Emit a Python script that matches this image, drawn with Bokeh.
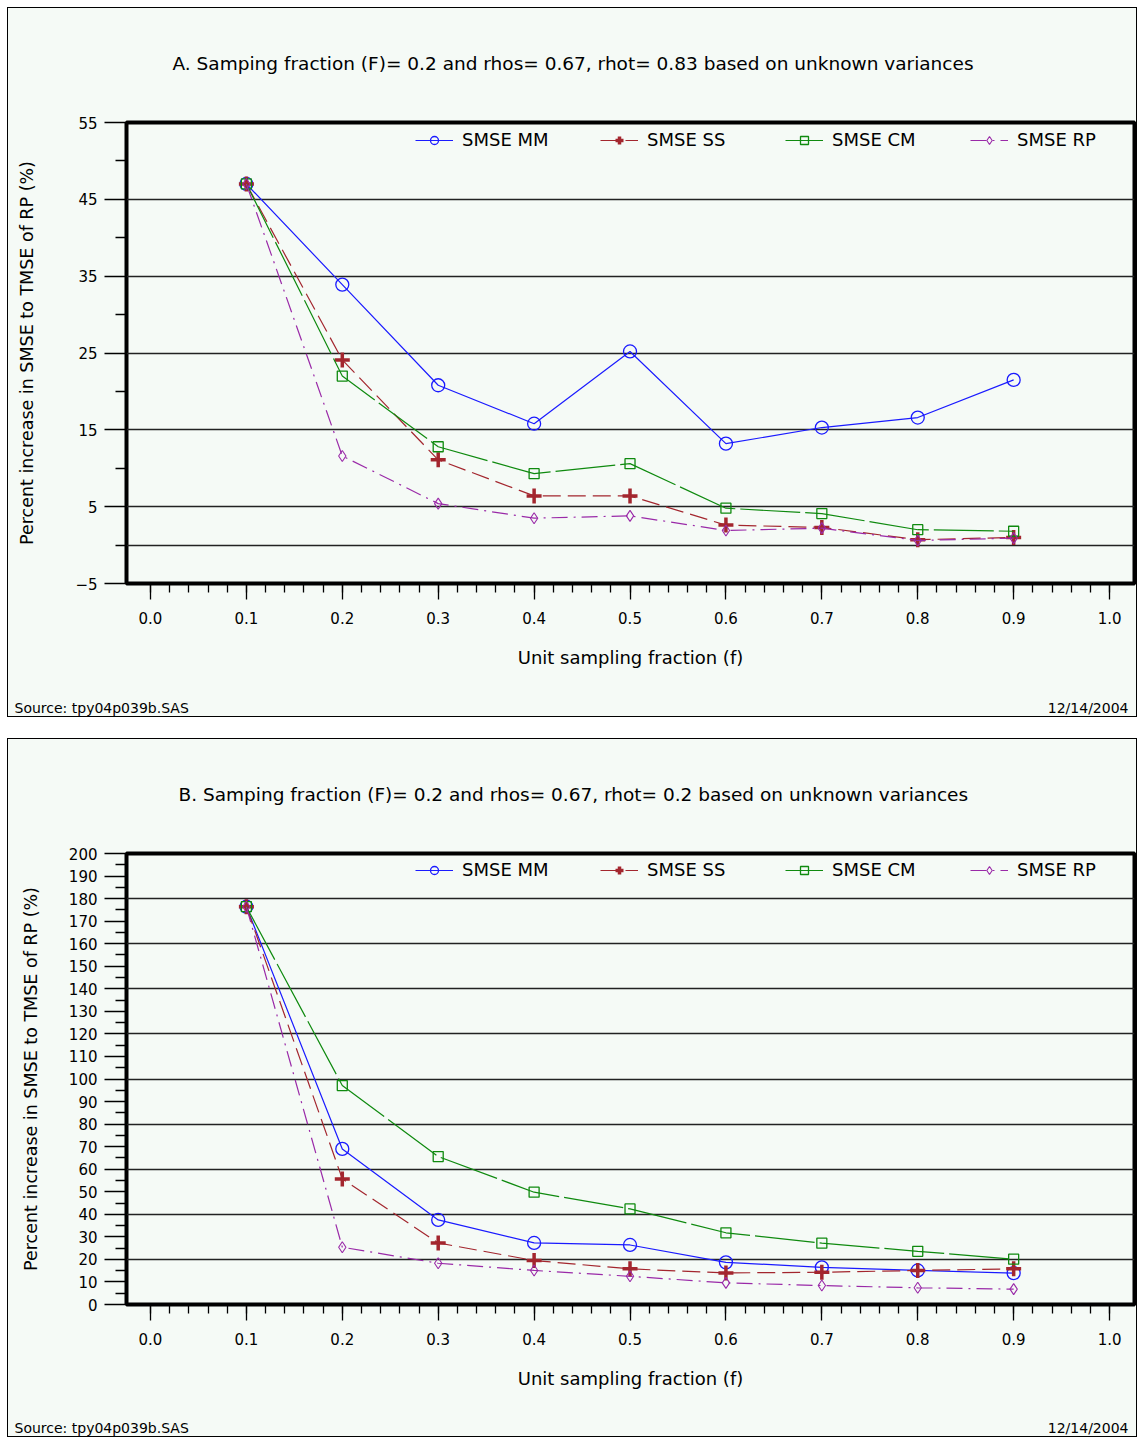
from bokeh.plotting import figure
from bokeh.models import (FixedTicker, PrintfTickFormatter, Legend, LegendItem,
                          Label, Range1d)
from bokeh.layouts import column, row
from bokeh.embed import file_html
from bokeh.resources import INLINE

# ---------------- data ----------------
f_values = [0.1, 0.2, 0.3, 0.4, 0.5, 0.6, 0.7, 0.8, 0.9]

a_mm = [47.0, 33.9, 20.8, 15.8, 25.2, 13.2, 15.3, 16.6, 21.5]
a_ss = [47.0, 24.1, 11.1, 6.4, 6.4, 2.6, 2.3, 0.7, 1.0]
a_cm = [47.0, 22.0, 12.8, 9.3, 10.6, 4.8, 4.1, 2.0, 1.8]
a_rp = [47.0, 11.6, 5.4, 3.5, 3.8, 1.9, 2.2, 0.6, 0.9]

b_mm = [176.4, 69.0, 37.5, 27.3, 26.4, 18.7, 16.5, 15.1, 13.9]
b_ss = [176.4, 55.7, 27.3, 19.5, 15.8, 14.0, 14.3, 15.1, 15.8]
b_cm = [176.4, 97.1, 65.6, 49.8, 42.4, 31.8, 27.2, 23.6, 20.1]
b_rp = [176.4, 25.4, 18.3, 15.1, 12.5, 9.6, 8.4, 7.4, 6.8]

x_ticks = [0.0, 0.1, 0.2, 0.3, 0.4, 0.5, 0.6, 0.7, 0.8, 0.9, 1.0]
x_minor = [round(i * 0.02, 2) for i in range(51)]

a_yticks = [-5, 5, 15, 25, 35, 45, 55]
a_yminor = [0, 10, 20, 30, 40, 50]
a_grid = [0, 5, 15, 25, 35, 45]

b_yticks = list(range(0, 201, 10))
b_yminor = list(range(5, 200, 10))
b_grid = [20, 40, 60, 80, 100, 120, 140, 160, 180]

series_names = ["SMSE MM", "SMSE SS", "SMSE CM", "SMSE RP"]

title_a = "A. Samping fraction (F)= 0.2 and rhos= 0.67, rhot= 0.83 based on unknown variances"
title_b = "B. Samping fraction (F)= 0.2 and rhos= 0.67, rhot= 0.2 based on unknown variances"
x_label = "Unit sampling fraction (f)"
y_label = "Percent increase in SMSE to TMSE of RP (%)"
source_text = "Source: tpy04p039b.SAS"
date_text = "12/14/2004"

# ---------------- style ----------------
BG = "#f5faf6"
FONT = "DejaVu Sans"
TXT = "black"
W = 1128
HEADER_H = 80
FOOTER_H = 24
styles = [
    dict(color="#1a1aff", dash="solid", marker="circle", size=13, mlw=1.3, lw=1.2),
    dict(color="#a3262e", dash="18 7", marker="cross", size=15, mlw=3.5, lw=1.2),
    dict(color="#0f8a0f", dash="60 5", marker="square", size=10, mlw=1.3, lw=1.2),
    dict(color="#9a2aa8", dash="16 6 2 6", marker="diamond", size=11, mlw=1.1, lw=1.2),
]


def strip(height):
    s = figure(width=W, height=height, output_backend="svg", toolbar_location=None,
               x_range=Range1d(0, 1), y_range=Range1d(0, 1),
               x_axis_type=None, y_axis_type=None, min_border=0,
               background_fill_color=BG, border_fill_color=BG)
    s.outline_line_color = None
    s.xgrid.visible = False
    s.ygrid.visible = False
    return s


def make_panel(title, ys, yrange, yticks, yminor, grid, main_h, bottom,
               legend_bottom, title_x, ylab_standoff):
    head = strip(HEADER_H)
    head.add_layout(Label(x=title_x, y=HEADER_H - 55, x_units="screen", y_units="screen",
                          text=title, text_font=FONT, text_font_size="18.5px",
                          text_color=TXT, text_baseline="middle", text_align="left"))

    p = figure(width=W, height=main_h, output_backend="svg", toolbar_location=None,
               x_range=Range1d(-0.025, 1.026), y_range=Range1d(*yrange),
               min_border_left=118, min_border_right=2,
               min_border_top=34, min_border_bottom=bottom,
               background_fill_color=BG, border_fill_color=BG)
    p.outline_line_color = "black"
    p.outline_line_width = 4

    # x axis
    xa = p.xaxis[0]
    xa.ticker = FixedTicker(ticks=x_ticks, minor_ticks=x_minor)
    xa.formatter = PrintfTickFormatter(format="%.1f")
    xa.axis_line_color = None
    xa.major_tick_out = 16
    xa.major_tick_in = 0
    xa.minor_tick_out = 9
    xa.minor_tick_in = 0
    xa.major_tick_line_width = 1.3
    xa.minor_tick_line_width = 1.3
    xa.major_label_standoff = 12
    xa.major_label_text_font = FONT
    xa.major_label_text_font_size = "15px"
    xa.major_label_text_color = TXT
    xa.axis_label = x_label
    xa.axis_label_text_font = FONT
    xa.axis_label_text_font_size = "18px"
    xa.axis_label_text_font_style = "normal"
    xa.axis_label_text_color = TXT
    xa.axis_label_standoff = 20

    # y axis
    ya = p.yaxis[0]
    ya.ticker = FixedTicker(ticks=yticks, minor_ticks=yminor)
    ya.axis_line_color = None
    ya.major_tick_out = 22
    ya.major_tick_in = 0
    ya.minor_tick_out = 11
    ya.minor_tick_in = 0
    ya.major_tick_line_width = 1.3
    ya.minor_tick_line_width = 1.3
    ya.major_label_standoff = 7
    ya.major_label_text_font = FONT
    ya.major_label_text_font_size = "15px"
    ya.major_label_text_color = TXT
    ya.axis_label = y_label
    ya.axis_label_text_font = FONT
    ya.axis_label_text_font_size = "17.5px"
    ya.axis_label_text_font_style = "normal"
    ya.axis_label_text_color = TXT
    ya.axis_label_standoff = ylab_standoff

    p.xgrid.visible = False
    p.ygrid.ticker = FixedTicker(ticks=grid)
    p.ygrid.grid_line_color = "#222222"
    p.ygrid.grid_line_width = 1.4

    items = []
    for name, yv, st in zip(series_names, ys, styles):
        ln = p.line(f_values, yv, line_color=st["color"], line_width=st["lw"],
                    line_dash=st["dash"])
        sc = p.scatter(f_values, yv, marker=st["marker"], size=st["size"],
                       line_color=st["color"], line_width=st["mlw"],
                       fill_color=None)
        items.append(LegendItem(label=name, renderers=[ln, sc]))

    leg = Legend(items=items, orientation="horizontal", location=(289, legend_bottom),
                 glyph_width=38, glyph_height=20, label_height=20, label_width=110,
                 label_standoff=9, spacing=28, padding=0, margin=0,
                 background_fill_alpha=0, border_line_color=None,
                 label_text_font=FONT, label_text_font_size="18px",
                 label_text_color=TXT)
    p.add_layout(leg, "center")

    foot = strip(FOOTER_H)
    foot.add_layout(Label(x=6, y=9, x_units="screen", y_units="screen",
                          text=source_text, text_font=FONT, text_font_size="14px",
                          text_color=TXT, text_baseline="middle", text_align="left"))
    foot.add_layout(Label(x=W - 8, y=9, x_units="screen", y_units="screen",
                          text=date_text, text_font=FONT, text_font_size="14px",
                          text_color=TXT, text_baseline="middle", text_align="right"))

    return column(head, row(p), foot, spacing=0,
                  styles={"border": "1px solid #000", "background-color": BG})


pa = make_panel(title_a, [a_mm, a_ss, a_cm, a_rp], (-5, 55), a_yticks, a_yminor,
                a_grid, 604, 109, 433, 164, 35)
pb = make_panel(title_b, [b_mm, b_ss, b_cm, b_rp], (0, 200), b_yticks, b_yminor,
                b_grid, 593, 108, 424, 170, 25)

layout = column(pa, pb, spacing=21, margin=(7, 0, 0, 7))
open("out.html", "w").write(file_html(layout, INLINE))
